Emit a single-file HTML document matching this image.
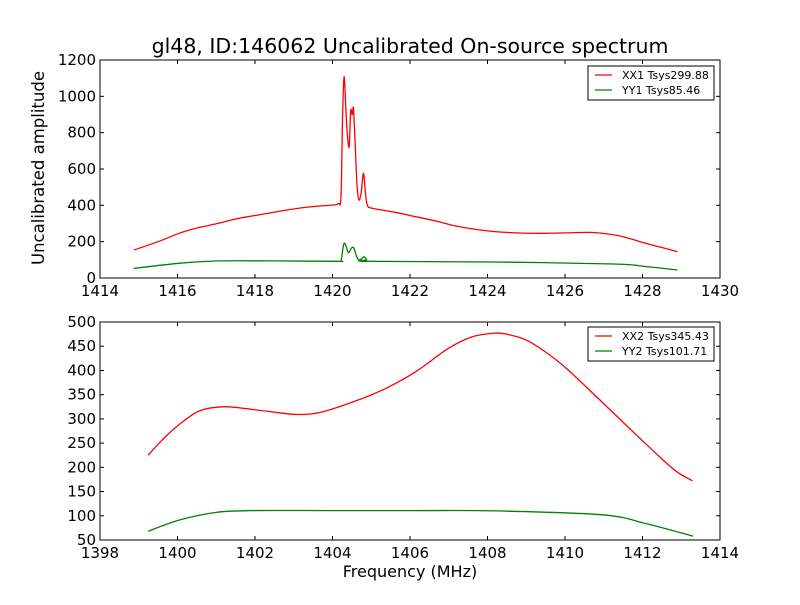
<!DOCTYPE html>
<html><head><meta charset="utf-8"><style>
body{margin:0;background:#fff}
svg text{font-family:"DejaVu Sans","Liberation Sans",sans-serif;fill:#000}
</style></head><body>
<svg id="c" width="800" height="600" xmlns="http://www.w3.org/2000/svg">
<rect width="800" height="600" fill="#fff"/>
<text x="410" y="53" font-size="20.5" text-anchor="middle">gl48, ID:146062 Uncalibrated On-source spectrum</text>
<text transform="translate(44,168) rotate(-90)" font-size="16.5" text-anchor="middle">Uncalibrated amplitude</text>
<text x="410" y="577" font-size="16" text-anchor="middle">Frequency (MHz)</text>
</svg>
<script>
const topFreqX = [1414.87,1415.5,1416.04,1416.5,1417.06,1417.5,1418.08,1418.6,1419.1,1419.6,1420.02,1420.15,1420.22,1420.26,1420.3,1420.34,1420.38,1420.43,1420.47,1420.51,1420.54,1420.58,1420.63,1420.68,1420.74,1420.8,1420.85,1420.9,1421.04,1421.6,1422.16,1422.7,1423.18,1424,1424.6,1425.22,1426,1426.65,1427.27,1427.7,1428.08,1428.5,1428.9];
const xx1 = [154,200,246,275,301,325,347,366,383,395,402,410,450,900,1108,950,800,723,920,900,935,760,520,430,470,578,470,400,383,362,337,312,286,259,250,246,248,251,237,215,191,168,145];
const topFreqY = [1414.87,1416.04,1417.06,1418.6,1420.12,1420.22,1420.26,1420.3,1420.35,1420.41,1420.49,1420.55,1420.62,1420.68,1420.75,1420.82,1420.88,1420.94,1424.2,1427.27,1428.1,1428.9];
const yy1 = [53,81,94,94,92,96,150,191,175,139,165,165,120,99,105,117,100,92,88,77,63,44];
const botFreqX = [1399.24,1399.6,1399.99,1400.55,1401.16,1401.67,1402.29,1403.1,1403.71,1404.53,1405.35,1406.16,1406.98,1407.59,1408.2,1408.6,1409.02,1409.5,1410.04,1410.86,1411.67,1412.49,1412.9,1413.29];
const xx2 = [225,256,285,316,325,322,316,309,314,335,362,398,445,469,477,473,462,438,404,342,280,218,190,172];
const botFreqY = [1399.24,1400.04,1400.96,1401.88,1404,1406,1408.2,1410.96,1412.08,1413.3];
const yy2 = [68,91,106.5,110.6,110.6,110.6,110,102,84,58];
const topXTicks = [1414,1416,1418,1420,1422,1424,1426,1428,1430];
const topYTicks = [0,200,400,600,800,1000,1200];
const botXTicks = [1398,1400,1402,1404,1406,1408,1410,1412,1414];
const botYTicks = [50,100,150,200,250,300,350,400,450,500];
const topLegend = ["XX1 Tsys299.88","YY1 Tsys85.46"];
const botLegend = ["XX2 Tsys345.43","YY2 Tsys101.71"];

const svg = document.getElementById('c');
const NS = 'http://www.w3.org/2000/svg';
function mk(tag, attrs){const e=document.createElementNS(NS,tag);for(const k in attrs)e.setAttribute(k,attrs[k]);svg.appendChild(e);return e;}
function smoothPath(pts){
  let d='M'+pts[0][0].toFixed(1)+','+pts[0][1].toFixed(1);
  for(let i=0;i<pts.length-1;i++){
    const p0=pts[Math.max(0,i-1)],p1=pts[i],p2=pts[i+1],p3=pts[Math.min(pts.length-1,i+2)];
    const c1=[p1[0]+(p2[0]-p0[0])/6,p1[1]+(p2[1]-p0[1])/6];
    const c2=[p2[0]-(p3[0]-p1[0])/6,p2[1]-(p3[1]-p1[1])/6];
    d+=' C'+c1.map(v=>v.toFixed(1)).join(',')+' '+c2.map(v=>v.toFixed(1)).join(',')+' '+p2[0].toFixed(1)+','+p2[1].toFixed(1);
  }
  return d;
}

function panel(name, box, xd, yd, xt, yt, series, legend, ly){
  const sx = v => box.x + (v-xd[0])/(xd[1]-xd[0])*box.w;
  const sy = v => box.y + box.h - (v-yd[0])/(yd[1]-yd[0])*box.h;
  series.forEach((s,i)=>{
    const pts = s.f.map((f,j)=>[sx(f),sy(s.v[j])]);
    const p = mk('path',{d:smoothPath(pts),fill:'none',stroke:s.c,'stroke-width':1.3,'stroke-linejoin':'round'});
    
    
  });
  const fr = mk('rect',{x:box.x,y:box.y,width:box.w,height:box.h,fill:'none',stroke:'#000','stroke-width':1});
  
  
  xt.forEach(t=>{
    const x=sx(t);
    mk('line',{x1:x,x2:x,y1:box.y+box.h,y2:box.y+box.h-4,stroke:'#000'});
    mk('line',{x1:x,x2:x,y1:box.y,y2:box.y+4,stroke:'#000'});
    const tx = mk('text',{x:x,y:box.y+box.h+18,'font-size':15,'text-anchor':'middle'});
    tx.textContent=t;
    
    
  });
  yt.forEach(t=>{
    const y=sy(t);
    mk('line',{x1:box.x,x2:box.x+4,y1:y,y2:y,stroke:'#000'});
    mk('line',{x1:box.x+box.w,x2:box.x+box.w-4,y1:y,y2:y,stroke:'#000'});
    const tx = mk('text',{x:box.x-4,y:y+5,'font-size':15,'text-anchor':'end'});
    tx.textContent=t;
    
    
  });
  const lg = mk('rect',{x:588,y:ly,width:126,height:34,fill:'#fff',stroke:'#000'});
  
  
  legend.forEach((l,i)=>{
    const yy = ly+9+i*15;
    mk('line',{x1:595,x2:612,y1:yy,y2:yy,stroke:series[i].c,'stroke-width':1.3});
    const tx = mk('text',{x:622,y:yy+4,'font-size':11});
    tx.textContent=l;
    
    
  });
}
panel('top-panel',{x:100,y:60,w:620,h:218},[1414,1430],[0,1200],topXTicks,topYTicks,
  [{f:topFreqX,v:xx1,c:'#ff0000'},{f:topFreqY,v:yy1,c:'#008000'}],topLegend,66);
panel('bottom-panel',{x:100,y:322,w:620,h:218},[1398,1414],[50,500],botXTicks,botYTicks,
  [{f:botFreqX,v:xx2,c:'#ff0000'},{f:botFreqY,v:yy2,c:'#008000'}],botLegend,327);
</script>
</body></html>
